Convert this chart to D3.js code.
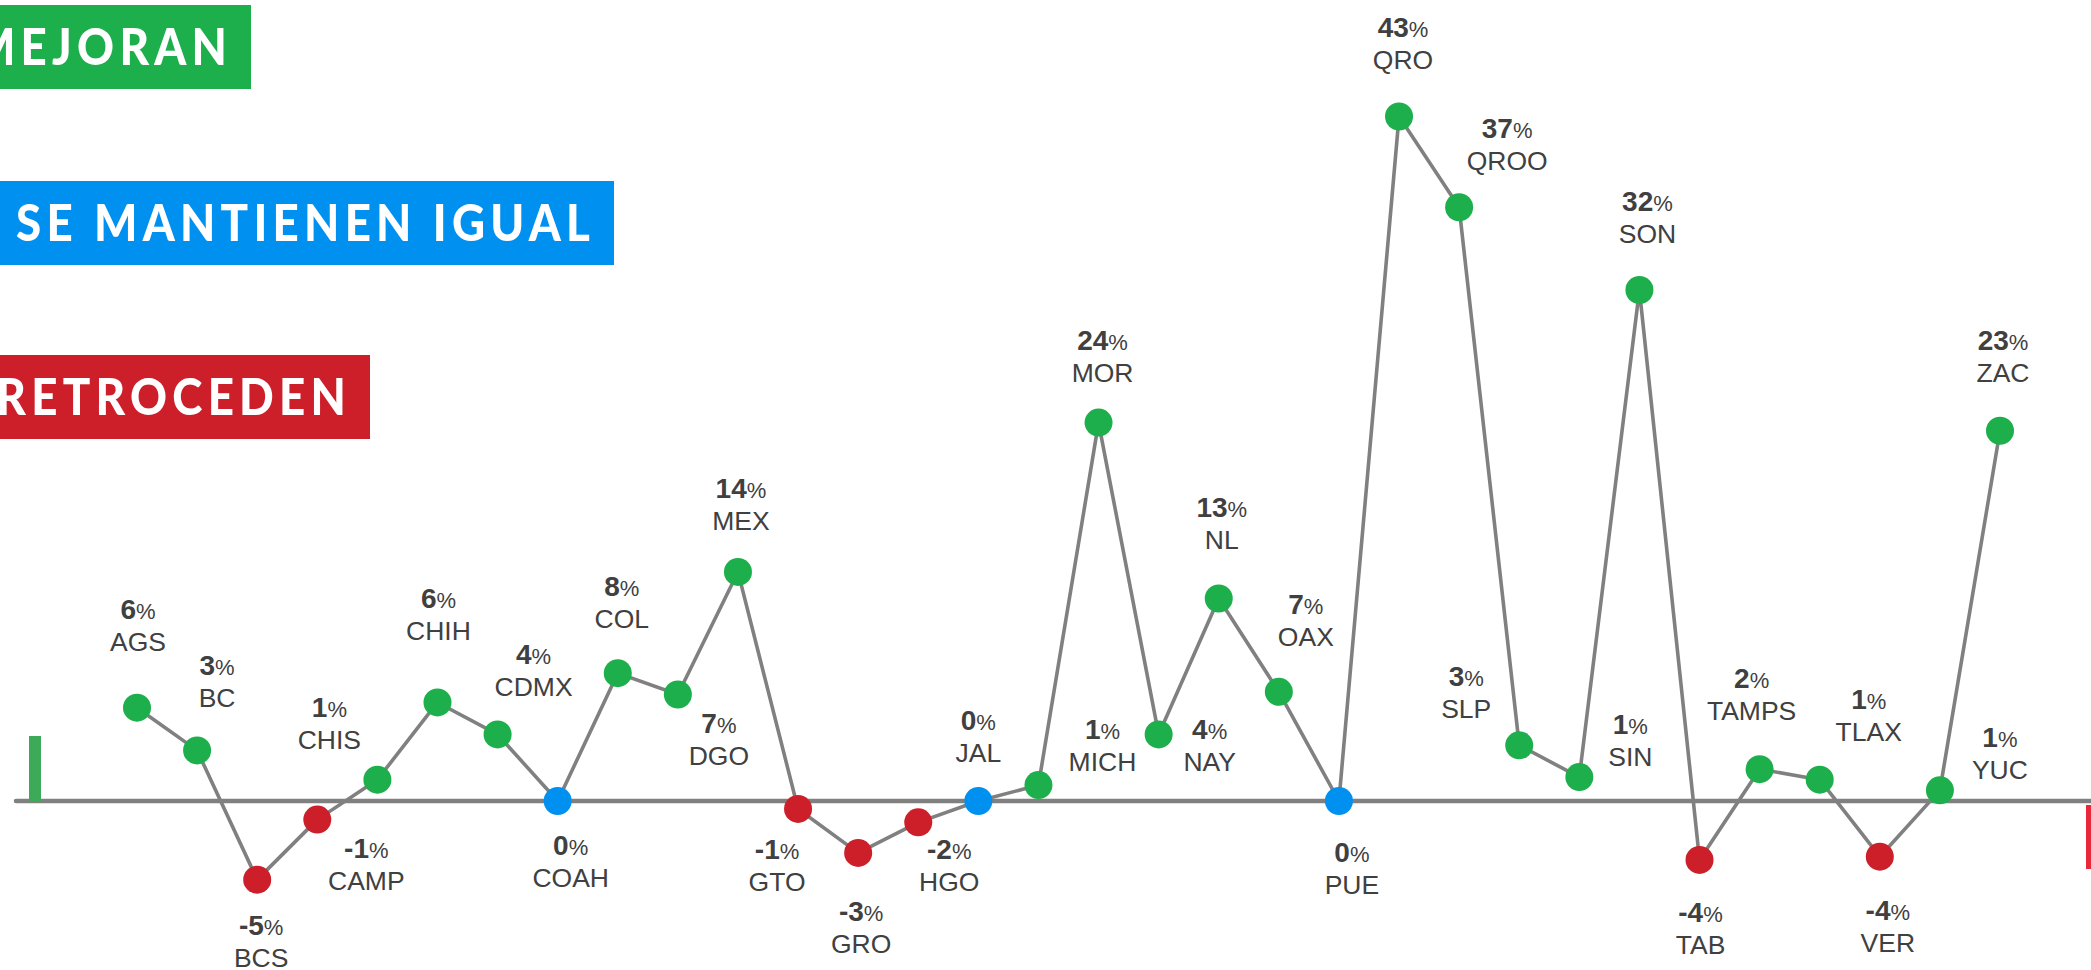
<!DOCTYPE html>
<html>
<head>
<meta charset="utf-8">
<script src="https://cdn.jsdelivr.net/npm/d3@7"></script>
<style>
html,body{margin:0;padding:0;background:#fff;overflow:hidden}
svg{display:block}
</style>
</head>
<body>
<svg id="chart" width="2091" height="970"></svg>
<script>
// ---- data ----
const states = ["AGS","BC","BCS","CAMP","CHIS","CHIH","CDMX","COAH","COL","DGO","MEX","GTO","GRO","HGO","JAL","MICH","MOR","NAY","NL","OAX","PUE","QRO","QROO","SLP","SIN","SON","TAB","TAMPS","TLAX","VER","YUC","ZAC"];
// plotted change (%)
const values = [5.86,3.18,-4.94,-1.17,1.34,6.19,4.18,0,8.03,6.69,14.39,-0.5,-3.26,-1.34,0,1.0,23.77,4.18,12.72,6.86,0,43.0,37.3,3.5,1.5,32.1,-3.7,2.0,1.34,-3.5,0.67,23.26];
// printed labels (%)
const pctLabels = [6,3,-5,-1,1,6,4,0,8,7,14,-1,-3,-2,0,1,24,4,13,7,0,43,37,3,1,32,-4,2,1,-4,1,23];
const legendLabels = ["MEJORAN","SE MANTIENEN IGUAL","RETROCEDEN"];

// ---- layout (label offsets from each dot, px) ----
const labelOffsets = [[1,-99],[20,-85],[4,45],[49,28],[-48,-73],[1,-104],[36,-80],[13,44],[4,-87],[41,28],[3,-84],[-21,40],[3,58],[31,27],[0,-81],[64,-56],[4,-83],[51,-5],[3,-92],[27,-88],[13,51],[4,-90],[48,-79],[-53,-69],[51,-53],[8,-89],[1,52],[-8,-91],[49,-81],[8,53],[60,-53],[3,-91]];

const GREEN = "#1daf4b", BLUE = "#0091f0", RED = "#cc1f2a", GRAY = "#808080", TXT = "#404040";
const colorOf = p => p > 0 ? GREEN : (p < 0 ? RED : BLUE);

const svg = d3.select("#chart");
svg.append("rect").attr("width",2091).attr("height",970).attr("fill","#fff");

const x = d3.scalePoint().domain(states).range([137, 2000]);
const y = d3.scaleLinear().domain([0, 43]).range([801, 116.5]);

const data = states.map((s,i) => ({state:s, v:values[i], p:pctLabels[i], off:labelOffsets[i]}));

// baseline
svg.append("line")
  .attr("x1",16).attr("x2",2095).attr("y1",y(0)).attr("y2",y(0))
  .attr("stroke",GRAY).attr("stroke-width",4.5).attr("stroke-linecap","round");

// end markers
svg.append("rect").attr("x",29).attr("y",736).attr("width",12).attr("height",y(0)-736).attr("fill","#3daa5a");
svg.append("rect").attr("x",2086).attr("y",y(0)+4).attr("width",10).attr("height",64).attr("fill","#e8283a");

// connecting line
const line = d3.line().x(d => x(d.state)).y(d => y(d.v));
svg.append("path").datum(data)
  .attr("d",line).attr("fill","none").attr("stroke",GRAY)
  .attr("stroke-width",3.6).attr("stroke-linejoin","round");

// dots
svg.append("g").selectAll("circle").data(data).join("circle")
  .attr("cx",d => x(d.state)).attr("cy",d => y(d.v)).attr("r",14)
  .attr("fill",d => colorOf(d.p));

// labels
const lab = svg.append("g").attr("font-family","'Liberation Sans', Arial, sans-serif").attr("fill",TXT)
  .selectAll("g").data(data).join("g")
  .attr("transform",d => `translate(${x(d.state)+d.off[0]},${y(d.v)+d.off[1]+10})`);
const vt = lab.append("text").attr("text-anchor","middle");
vt.append("tspan").attr("font-weight","bold").attr("font-size",28).text(d => d.p);
vt.append("tspan").attr("font-size",22).text("%");
lab.append("text").attr("text-anchor","middle").attr("y",32).attr("font-size",26.5).text(d => d.state);

// legend boxes
const legendBoxes = [
  {t:legendLabels[0], c:GREEN, y:5,   w:251},
  {t:legendLabels[1], c:BLUE,  y:181, w:614},
  {t:legendLabels[2], c:RED,   y:355, w:370}
];
const LS = 6;
const lg = svg.append("g").selectAll("g").data(legendBoxes).join("g");
lg.append("rect").attr("x",0).attr("y",d=>d.y).attr("width",d=>d.w).attr("height",84).attr("fill",d=>d.c);
const lt = lg.append("text").attr("x",0).attr("y",0).attr("text-anchor","start")
  .attr("font-family","Lato, 'Open Sans', sans-serif").attr("font-weight",900)
  .attr("font-size",52).attr("letter-spacing",LS).attr("fill","#fff").text(d=>d.t);
const lens = lt.nodes().map(n => n.getComputedTextLength() - LS);
const k = 574 / lens[1];
lt.attr("transform",(d,i) => `translate(${d.w - 24 - lens[i]*k},${d.y+60}) scale(${k},1)`);
</script>
</body>
</html>
